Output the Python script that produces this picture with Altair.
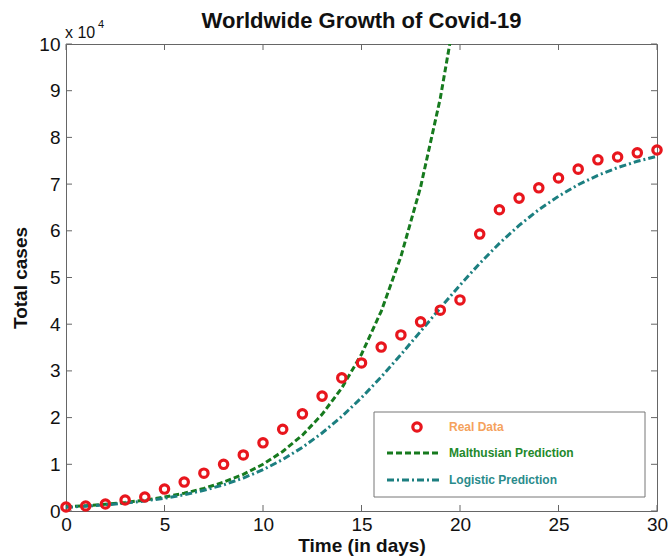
import altair as alt
import pandas as pd

# ---------------- data ----------------
days = list(range(31))
real_cases = [860, 1070, 1500, 2350, 3000, 4700, 6200, 8100, 10000, 12000,
              14600, 17500, 20800, 24600, 28500, 31700, 35100, 37700, 40500, 43000,
              45200, 59300, 64500, 67000, 69200, 71300, 73200, 75200, 75800, 76700,
              77300]
malthus_days = list(range(21))
malthus_cases = [890, 1130, 1440, 1840, 2340, 2990, 3800, 4840, 6170, 7860,
                 10000, 12750, 16240, 20690, 26350, 33570, 42760, 54470, 69380, 88380,
                 112600]
logistic_cases = [800, 1030, 1310, 1680, 2150, 2740, 3480, 4430, 5600, 7060,
                  8840, 11020, 13630, 16700, 20250, 24260, 28720, 33490, 38460, 43480,
                  48370, 53020, 57310, 61160, 64520, 67400, 69870, 71880, 73530, 74880,
                  75950]
x_ticks = [0, 5, 10, 15, 20, 25, 30]
y_ticks = [0, 10000, 20000, 30000, 40000, 50000, 60000, 70000, 80000, 90000, 100000]
legend_labels = ["Real Data", "Malthusian Prediction", "Logistic Prediction"]
title_text = "Worldwide Growth of Covid-19"

# ---------------- styling ----------------
FONT = "Liberation Sans"
RED = "#e8161d"
GREEN = "#167a1e"
TEAL = "#1c7f80"
LEG_COLORS = ["#f5a25d", "#23892b", "#2a8b8b"]
W, H = 591, 467
AX = "#666666"

real_df = pd.DataFrame({"t": days, "cases": real_cases})
mal_df = pd.DataFrame({"t": malthus_days, "cases": malthus_cases})
log_df = pd.DataFrame({"t": days, "cases": logistic_cases})
xt_df = pd.DataFrame({"t": x_ticks})
yt_df = pd.DataFrame({"cases": y_ticks})

x_scale = alt.Scale(domain=[0, 30], nice=False, zero=False)
y_scale = alt.Scale(domain=[0, 100000], nice=False)
x_axis = alt.Axis(values=x_ticks, title="Time (in days)", grid=False, ticks=False,
                  domain=False, labelFontSize=19, labelPadding=4, titleFontSize=19,
                  titleFontWeight="bold", titlePadding=2, labelColor="#111",
                  titleColor="#111", labelFlush=False)
y_axis = alt.Axis(values=y_ticks, title="Total cases", grid=False, ticks=False,
                  domain=False, labelExpr="datum.value / 10000", labelFontSize=19,
                  labelPadding=6, titleFontSize=19, titleFontWeight="bold",
                  titlePadding=8, labelColor="#111", titleColor="#111",
                  labelFlush=False)
X = alt.X("t:Q", scale=x_scale, axis=x_axis)
Y = alt.Y("cases:Q", scale=y_scale, axis=y_axis)

mal_line = alt.Chart(mal_df).mark_line(
    color=GREEN, strokeWidth=3, strokeDash=[6, 3], clip=True
).encode(x=X, y=Y)
log_line = alt.Chart(log_df).mark_line(
    color=TEAL, strokeWidth=3, strokeDash=[7, 3, 2, 3]
).encode(x=X, y=Y)
points = alt.Chart(real_df).mark_point(
    shape="circle", color=RED, strokeWidth=3.2, size=70, filled=False, opacity=1
).encode(x=X, y=Y)

# inward ticks on all four sides
tick_bottom = alt.Chart(xt_df).mark_rule(color=AX).encode(
    x=X, y=alt.value(H), y2=alt.value(H - 6))
tick_top = alt.Chart(xt_df).mark_rule(color=AX).encode(
    x=X, y=alt.value(0), y2=alt.value(6))
tick_left = alt.Chart(yt_df).mark_rule(color=AX).encode(
    y=Y, x=alt.value(0), x2=alt.value(6))
tick_right = alt.Chart(yt_df).mark_rule(color=AX).encode(
    y=Y, x=alt.value(W), x2=alt.value(W - 6))

one = pd.DataFrame({"a": [1]})

# title as a text mark
title = alt.Chart(pd.DataFrame({"lab": [title_text]})).mark_text(
    font=FONT, fontSize=22, fontWeight="bold", align="center",
    baseline="alphabetic", color="#111").encode(
    text="lab:N", x=alt.value(W / 2), y=alt.value(-16))

# "x 10^4" multiplier
mult = alt.Chart(one).mark_text(
    text="x 10", font=FONT, fontSize=16, align="left", baseline="alphabetic",
    color="#111").encode(x=alt.value(-1), y=alt.value(-6))
mult_exp = alt.Chart(one).mark_text(
    text="4", font=FONT, fontSize=11, align="left", baseline="alphabetic",
    color="#111").encode(x=alt.value(32), y=alt.value(-16))

# legend
leg_box = alt.Chart(one).mark_rect(
    fill="white", stroke="#777777", strokeWidth=1).encode(
    x=alt.value(308), x2=alt.value(579), y=alt.value(368), y2=alt.value(453))
leg_pt = alt.Chart(one).mark_point(
    shape="circle", color=RED, strokeWidth=3.2, size=70, filled=False, opacity=1
).encode(x=alt.value(351), y=alt.value(383))
leg_mal = alt.Chart(one).mark_rule(
    color=GREEN, strokeWidth=3, strokeDash=[6, 3]).encode(
    x=alt.value(321), x2=alt.value(374), y=alt.value(409))
leg_log = alt.Chart(one).mark_rule(
    color=TEAL, strokeWidth=3, strokeDash=[7, 3, 2, 3]).encode(
    x=alt.value(321), x2=alt.value(374), y=alt.value(436))
leg_texts = []
for lab, col, yy in zip(legend_labels, LEG_COLORS, [383, 409, 436]):
    leg_texts.append(
        alt.Chart(pd.DataFrame({"lab": [lab]})).mark_text(
            font=FONT, fontSize=12, fontWeight="bold", align="left",
            baseline="middle", color=col).encode(
            text="lab:N", x=alt.value(383), y=alt.value(yy)))

chart = alt.layer(
    tick_bottom, tick_top, tick_left, tick_right,
    mal_line, log_line, points,
    title, mult, mult_exp,
    leg_box, leg_pt, leg_mal, leg_log, *leg_texts
).properties(
    width=W, height=H,
    autosize=alt.AutoSizeParams(type="none"),
    padding={"left": 66, "top": 44, "right": 13, "bottom": 48},
).configure(
    font=FONT, background="white"
).configure_view(
    stroke=AX, strokeWidth=1
).configure_axis(
    labelFont=FONT, titleFont=FONT
)

chart.save("out.html", embed_options={"renderer": "svg", "actions": False})
